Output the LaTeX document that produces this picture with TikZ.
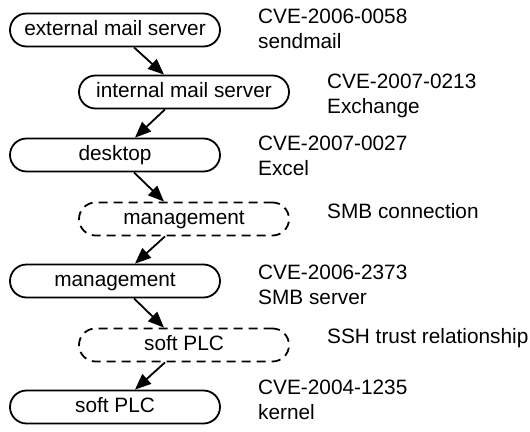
\documentclass[tikz,border=0pt]{standalone}
\usepackage{fontspec}
\setmainfont{Liberation Sans}
\usetikzlibrary{arrows.meta}
\begin{document}
\begin{tikzpicture}[x=1pt,y=1pt,
  every node/.style={font=\fontsize{20.8}{25}\selectfont},
  host/.style={draw, line width=1.8pt, rounded corners=16.5pt, minimum width=210pt, minimum height=33pt, text height=15pt, text depth=4.5pt, inner sep=0pt},
  hostd/.style={host, dash pattern=on 9pt off 6pt},
  vuln/.style={anchor=north west, align=left, inner sep=0pt},
  arr/.style={line width=1.8pt, -{Triangle[length=16pt,width=13pt]}}]
\useasboundingbox (0,0) rectangle (530,-431);
\node[host]  (n1) at (115,-30)  {external mail server};
\node[host]  (n2) at (184,-92)  {internal mail server};
\node[host]  (n3) at (115,-155) {desktop};
\node[hostd] (n4) at (184,-219) {management};
\node[host]  (n5) at (115,-281) {management};
\node[hostd] (n6) at (184,-345) {soft PLC};
\node[host]  (n7) at (115,-407) {soft PLC};
\draw[arr] ([xshift=19pt]n1.south) -- ([xshift=-20pt]n2.north);
\draw[arr] ([xshift=-19pt]n2.south) -- ([xshift=20pt]n3.north);
\draw[arr] ([xshift=19pt]n3.south) -- ([xshift=-20pt]n4.north);
\draw[arr] ([xshift=-19pt]n4.south) -- ([xshift=20pt]n5.north);
\draw[arr] ([xshift=19pt]n5.south) -- ([xshift=-20pt]n6.north);
\draw[arr] ([xshift=-19pt]n6.south) -- ([xshift=20pt]n7.north);
\node[vuln] (l1) at (258,-9)   {CVE-2006-0058\\sendmail};
\node[vuln] (l2) at (327,-74)  {CVE-2007-0213\\Exchange};
\node[vuln] (l3) at (258,-136) {CVE-2007-0027\\Excel};
\node[vuln] (l4) at (327,-203) {SMB connection};
\node[vuln] (l5) at (258,-265) {CVE-2006-2373\\SMB server};
\node[vuln] (l6) at (327,-328) {SSH trust relationship};
\node[vuln] (l7) at (258,-380) {CVE-2004-1235\\kernel};
\end{tikzpicture}
\end{document}
